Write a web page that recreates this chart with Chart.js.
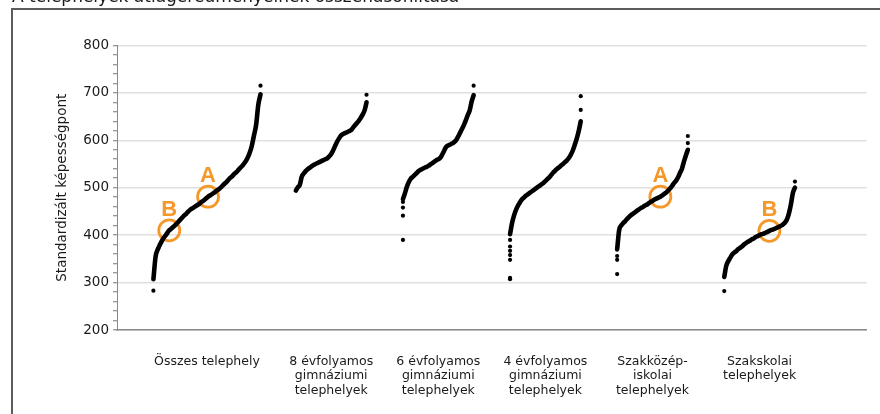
<!DOCTYPE html>
<html>
<head>
<meta charset="utf-8">
<script src="https://cdn.jsdelivr.net/npm/chart.js@4.4.1/dist/chart.umd.min.js"></script>
<style>
html, body { margin: 0; padding: 0; background: #fff; overflow: hidden; }
#wrap { position: relative; width: 880px; height: 414px; }
#frame { position: absolute; left: 11px; top: 8px; width: 900px; height: 500px; border: 2px solid #5c5c5c; box-sizing: border-box; }
#c { position: absolute; left: 0; top: 0; }
</style>
</head>
<body>
<div id="wrap"><div id="frame"></div><canvas id="c" width="880" height="414"></canvas></div>
<script>
// ---------- texts ----------
const chartTitle = 'A telephelyek átlageredményeinek összehasonlítása';
const yTitle = 'Standardizált képességpont';
const categories = [
  ['Összes telephely'],
  ['8 évfolyamos', 'gimnáziumi', 'telephelyek'],
  ['6 évfolyamos', 'gimnáziumi', 'telephelyek'],
  ['4 évfolyamos', 'gimnáziumi', 'telephelyek'],
  ['Szakközép-', 'iskolai', 'telephelyek'],
  ['Szakskolai', 'telephelyek']
];

// ---------- sorted site means ----------
const osszesLow  = [283];
const osszes     = [307,355,370,380,389,396,402,409,413,417,421,426,431,436,441,445,450,454,457,460,463,466,470,473,477,481,484,487,490,494,497,501,506,510,515,520,524,529,533,538,543,548,554,562,573,588,610,633,675,697];
const osszesHigh = [715];

const evf8Low  = [];
const evf8     = [494,501,506,523,530,535,539,542,545,548,550,552,554,556,558,560,562,566,571,579,588,597,604,610,613,615,617,619,621,626,631,636,641,647,654,663,680];
const evf8High = [696];

const evf6Low  = [390,441,458,470];
const evf6     = [476,488,502,512,519,523,527,531,535,538,540,542,544,546,549,552,555,558,560,563,570,578,586,589,591,593,596,600,607,615,623,632,642,653,663,682,695];
const evf6High = [715];

const evf4Low  = [307,310,348,358,367,376,390];
const evf4     = [402,425,441,453,462,469,475,479,483,486,489,492,495,498,501,504,507,510,514,518,522,527,532,536,540,543,547,550,554,558,563,570,579,591,604,620,640];
const evf4High = [664,693];

const szakkozepLow  = [318,348,356];
const szakkozep     = [370,410,420,425,429,434,438,442,445,448,451,454,457,459,462,464,467,470,472,475,477,479,481,484,487,490,494,499,504,510,515,522,531,540,555,568,580];
const szakkozepHigh = [594,609];

const szakiskolaLow  = [282];
const szakiskola     = [312,335,345,352,359,363,366,370,373,376,380,383,386,388,391,393,396,398,400,402,403,405,407,409,411,412,414,416,418,420,423,427,434,447,466,490,500];
const szakiskolaHigh = [513];

// highlighted sites (A, B)
const markerLabels   = ['A', 'B', 'A', 'B'];
const markerCategory = [0, 0, 4, 5];
const markerValue    = [481, 410, 481, 409];

// y axis ticks
const yMin = 200, yMax = 800, yMajor = 100, yMinor = 20;

// ---------- layout (not data) ----------
const catCenter = [0.84, 2, 3, 4, 5, 6];
const catWidth  = [1.0, 0.66, 0.66, 0.66, 0.66, 0.66];
const ORANGE = '#F5982A';

const series = [
  { low: osszesLow, main: osszes, high: osszesHigh },
  { low: evf8Low, main: evf8, high: evf8High },
  { low: evf6Low, main: evf6, high: evf6High },
  { low: evf4Low, main: evf4, high: evf4High },
  { low: szakkozepLow, main: szakkozep, high: szakkozepHigh },
  { low: szakiskolaLow, main: szakiskola, high: szakiskolaHigh }
];

function xAt(c, f, n) {
  const w = catWidth[c];
  return catCenter[c] - w / 2 + (n > 1 ? f * w / (n - 1) : 0);
}
function markerX(c, v) {
  const a = series[c].main;
  for (let i = 0; i < a.length - 1; i++) {
    if (v >= a[i] && v <= a[i + 1]) {
      const f = i + (a[i + 1] === a[i] ? 0 : (v - a[i]) / (a[i + 1] - a[i]));
      return xAt(c, f, a.length);
    }
  }
  return catCenter[c];
}

Chart.defaults.font.family = '"DejaVu Sans", "Liberation Sans", sans-serif';
Chart.defaults.color = '#1a1a1a';

const datasets = [];
series.forEach((s, c) => {
  const n = s.main.length;
  datasets.push({
    data: s.main.map((v, i) => ({ x: xAt(c, i, n), y: v })),
    showLine: true,
    borderColor: '#000',
    borderWidth: 4.6,
    borderCapStyle: 'round',
    borderJoinStyle: 'round',
    cubicInterpolationMode: 'monotone',
    pointRadius: 0
  });
  datasets.push({
    data: s.low.map(v => ({ x: xAt(c, 0, n), y: v })).concat(s.high.map(v => ({ x: xAt(c, n - 1, n), y: v }))),
    showLine: false,
    pointRadius: 2.1,
    pointBackgroundColor: '#000',
    pointBorderWidth: 0
  });
});
const markerData = markerValue.map((v, i) => ({ x: markerX(markerCategory[i], v), y: v }));
datasets.push({
  data: markerData,
  showLine: false,
  pointRadius: 2.2,
  pointBackgroundColor: ORANGE,
  pointBorderWidth: 0
});
const circleIndex = datasets.length;
datasets.push({
  data: markerData,
  showLine: false,
  pointStyle: 'circle',
  pointRadius: 10.5,
  pointBorderWidth: 2.8,
  pointBorderColor: ORANGE,
  pointBackgroundColor: 'rgba(0,0,0,0)'
});

const markerText = {
  id: 'markerText',
  afterDatasetsDraw(chart) {
    const meta = chart.getDatasetMeta(circleIndex);
    const ctx = chart.ctx;
    ctx.save();
    ctx.font = 'bold 22px "Liberation Sans", Arial, sans-serif';
    ctx.fillStyle = ORANGE;
    ctx.textAlign = 'center';
    ctx.textBaseline = 'alphabetic';
    meta.data.forEach((pt, i) => {
      ctx.fillText(markerLabels[i], pt.x, pt.y - 14.7);
    });
    ctx.restore();
  }
};

new Chart(document.getElementById('c'), {
  type: 'scatter',
  data: { datasets },
  plugins: [markerText],
  options: {
    responsive: false,
    animation: false,
    events: [],
    layout: { padding: { left: 12, right: 13, top: 0, bottom: 0 } },
    plugins: {
      legend: { display: false },
      tooltip: { enabled: false },
      title: {
        display: true,
        text: chartTitle,
        align: 'start',
        color: '#1a1a1a',
        font: { size: 17, weight: 'normal', lineHeight: 1.2 },
        padding: { top: -13, bottom: 38 }
      }
    },
    scales: {
      x: {
        type: 'linear',
        min: 0,
        max: 7,
        afterFit: s => { s.height = 84; },
        afterBuildTicks: s => { s.ticks = catCenter.map(v => ({ value: v })); },
        ticks: {
          autoSkip: false,
          maxRotation: 0,
          minRotation: 0,
          padding: 24,
          color: '#1a1a1a',
          font: { size: 12.5, lineHeight: 1.16 },
          callback: (v, i) => categories[i]
        },
        grid: { display: false, drawTicks: false },
        border: { color: '#888', width: 1.5 }
      },
      y: {
        min: yMin,
        max: yMax,
        afterFit: s => { s.width = 105; },
        title: {
          display: true,
          text: yTitle,
          color: '#1a1a1a',
          font: { size: 13.5 },
          padding: { top: 42, bottom: 0 }
        },
        ticks: {
          stepSize: yMinor,
          autoSkip: false,
          maxTicksLimit: 100,
          padding: 4,
          color: '#1a1a1a',
          font: { size: 13.5 },
          callback: v => (v % yMajor === 0 ? String(v) : '')
        },
        grid: {
          color: ctx => (ctx.tick && ctx.tick.value % yMajor === 0) ? '#e0e0e0' : 'rgba(0,0,0,0)',
          lineWidth: 1.5,
          drawTicks: true,
          tickLength: 4,
          tickColor: '#777',
          tickWidth: 1
        },
        border: { color: '#888', width: 1 }
      }
    }
  }
});
</script>
</body>
</html>
